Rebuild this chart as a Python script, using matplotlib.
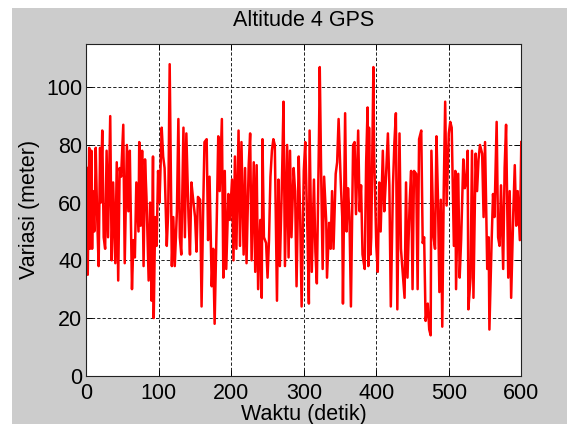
import matplotlib
matplotlib.use("Agg")
import matplotlib.pyplot as plt
from matplotlib.patches import Rectangle

plt.rcParams['font.family'] = ['Liberation Sans', 'DejaVu Sans']

# waktu (detik) dan variasi (meter)
waktu = [1, 2, 4, 5, 7, 8, 9, 11, 12, 13, 15, 17, 19, 20, 22, 24, 26, 28, 30, 33,
         35, 37, 40, 42, 44, 46, 48, 51, 53, 56, 58, 60, 63, 65, 67, 69, 72, 73, 75, 77,
         79, 81, 83, 86, 88, 90, 92, 93, 95, 97, 99,
         101, 104, 106, 108, 111, 113, 115, 118, 120, 122, 125, 127, 129, 131, 134, 136, 138, 141, 143, 145,
         147, 150, 152, 154, 157, 159, 161, 163, 166, 168, 170, 173, 175, 177, 180, 182, 184, 187, 189, 191,
         193, 196, 198,
         201, 203, 205, 207, 210, 212, 214, 217, 219, 221, 224, 226, 228, 231, 233, 235, 237, 240, 242, 243,
         245, 248, 250, 252, 254, 256, 258, 260, 263, 265, 267, 270, 272, 274, 277, 279, 281, 283, 286, 288,
         290, 293, 295, 297,
         300, 302, 305, 307, 308, 311, 314, 316, 318, 321, 322, 324, 326, 328, 331, 332, 335, 337, 339, 341,
         344, 346, 348, 351, 353, 354, 357, 359, 361, 363, 365, 368, 370, 372, 375, 377, 379, 381, 384, 386,
         388, 389, 390, 392, 393, 396, 397, 400,
         402, 404, 406, 409, 411, 413, 416, 418, 420, 423, 425, 427, 429, 432, 434, 436, 439, 441, 443, 446,
         448, 450, 452, 455, 457, 459, 462, 464, 466, 468, 471, 473, 475, 476, 479, 481, 483, 485, 487, 489,
         491, 493, 495, 497, 500,
         502, 504, 507, 509, 510, 513, 515, 517, 520, 522, 524, 526, 527, 530, 532, 534, 537, 539, 541, 543,
         546, 548, 550, 553, 555, 556, 559, 561, 563, 566, 568, 570, 572, 575, 577, 579, 582, 584, 586, 589,
         591, 593, 595, 598, 600]
variasi = [72, 35, 79, 44, 78, 44, 64, 50, 62, 79, 55, 38, 79, 60, 85, 48, 44, 78, 48, 90,
           40, 67, 39, 74, 33, 72, 69, 87, 39, 80, 57, 78, 30, 47, 41, 67, 50, 81, 52, 78,
           38, 75, 62, 33, 60, 26, 76, 20, 55, 45, 71,
           60, 86, 76, 72, 45, 57, 108, 38, 55, 38, 57, 89, 48, 42, 86, 48, 84, 55, 42, 67,
           62, 55, 43, 62, 61, 24, 55, 81, 82, 47, 69, 31, 44, 18, 55, 83, 64, 89, 34, 71,
           37, 63, 54,
           68, 40, 76, 44, 85, 45, 81, 42, 72, 39, 73, 84, 40, 74, 36, 73, 30, 54, 27, 82,
           48, 46, 34, 47, 69, 78, 82, 80, 26, 68, 38, 69, 95, 38, 80, 41, 78, 48, 72, 64,
           31, 76, 55, 24,
           71, 81, 50, 25, 85, 36, 68, 43, 32, 84, 107, 69, 37, 69, 53, 34, 53, 44, 64, 44,
           70, 74, 89, 67, 55, 25, 91, 50, 65, 55, 24, 80, 81, 56, 85, 57, 66, 42, 37, 74,
           93, 38, 86, 42, 48, 107, 77, 45,
           36, 67, 50, 78, 57, 67, 84, 66, 24, 66, 81, 91, 23, 84, 44, 37, 27, 67, 34, 60,
           71, 30, 71, 70, 30, 82, 85, 46, 48, 19, 25, 16, 14, 78, 48, 44, 83, 62, 29, 61,
           17, 64, 95, 59, 84,
           88, 86, 45, 71, 30, 70, 34, 47, 75, 65, 67, 78, 23, 34, 78, 27, 77, 64, 75, 80,
           77, 55, 81, 37, 48, 16, 46, 63, 55, 88, 48, 45, 66, 37, 72, 87, 34, 64, 27, 57,
           73, 52, 64, 47, 81]

fig = plt.figure(figsize=(5.67, 4.24), dpi=100)
fig.patch.set_facecolor('white')
# latar abu-abu ala MATLAB
fig.patches.append(Rectangle((12 / 567, 0), 1, (424 - 8) / 424, transform=fig.transFigure,
                             facecolor='#cccccc', edgecolor='none', zorder=-1))

ax = fig.add_axes([86.3 / 567, (424 - 375.7) / 424, (521.3 - 86.3) / 567, (375.7 - 44) / 424])
ax.set_facecolor('white')
ax.plot(waktu, variasi, color='red', lw=1.8)

ax.set_xlim(0, 600)
ax.set_ylim(0, 115)
ax.set_xticks(range(0, 601, 100))
ax.set_yticks(range(0, 101, 20))
ax.grid(True, color='#222222', linestyle=(0, (3.4, 2.1)), linewidth=0.7)
ax.tick_params(direction='in', length=4, width=0.7, labelsize=15.5, top=True, right=True)
ax.tick_params(axis='x', pad=5)
ax.tick_params(axis='y', pad=3)
for s in ax.spines.values():
    s.set_linewidth(0.8)
    s.set_color('#222222')

ax.set_title("Altitude 4 GPS", fontsize=15.5, pad=13)
ax.set_xlabel("Waktu (detik)", fontsize=15.5, labelpad=0)
ax.set_ylabel("Variasi (meter)", fontsize=15.5, labelpad=4)

fig.savefig("out.png", dpi=100, facecolor=fig.get_facecolor())
